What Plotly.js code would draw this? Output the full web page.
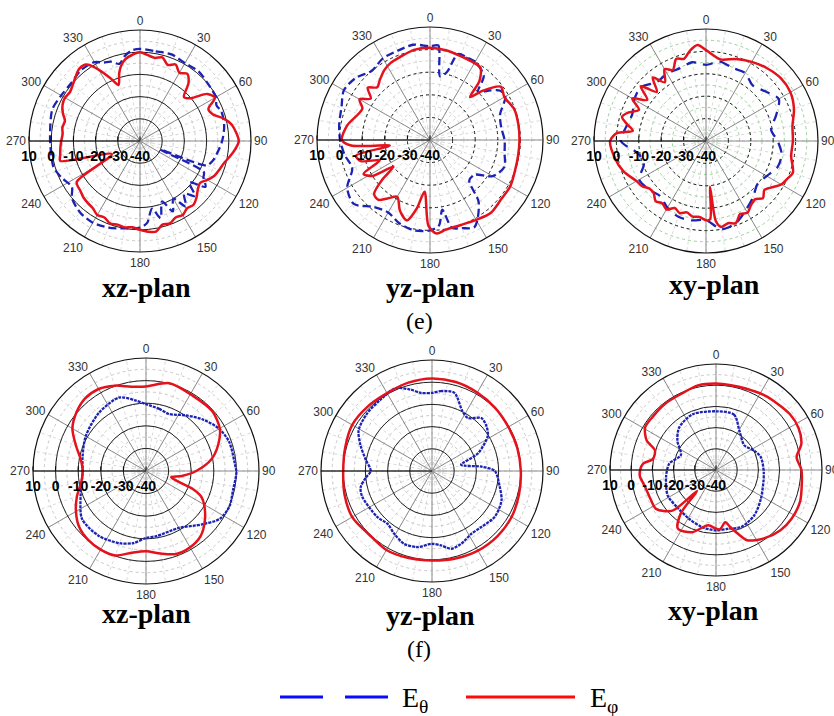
<!DOCTYPE html>
<html><head><meta charset="utf-8">
<script src="https://cdn.plot.ly/plotly-3.0.1.min.js"></script>
<style>html,body{margin:0;padding:0;background:#fff}#chart{width:834px;height:716px}</style>
</head><body><div id="chart"></div>
<script>
// ---------- tick labels ----------
const ANGLE_TICKS = [0,30,60,90,120,150,180,210,240,270,300,330];
const ANGLE_LABELS = ['0','30','60','90','120','150','180','210','240','270','300','330'];
const RADIAL_TICKS = [-40,-30,-20,-10,0,10];
const RADIAL_LABELS = ['-40','-30','-20','-10','0','10'];
const MINOR_ANGLE_TICKS = [0,10,20,30,40,50,60,70,80,90,100,110,120,130,140,150,160,170,180,190,200,210,220,230,240,250,260,270,280,290,300,310,320,330,340,350];
const MINOR_RADIAL_TICKS = [-35,-30,-25,-20,-15,-10,-5,0,5];
const PLANE_NAMES = ['xz-plan','yz-plan','xy-plan'];
const ROW_LABELS = ['(e)','(f)'];
const SERIES_NAMES = ['E<sub>θ</sub>','E<sub>φ</sub>'];

// ---------- (e) xz-plan ----------
const eXZ_thetaAng = [0,10,20,30,40,50,60,65,70,80,90,100,105,110,113,116,120,125,130,135,140,145,150,155,160,165,170,175,180,190,200,210,220,230,236,245,253,260,270,280,290,300,310,320,330,335,340,345,350,355,360];
const eXZ_thetaVal = [1.5,1,1.5,0.5,1,0,-0.5,-2,-1,-1.5,-3,-5,-6,-8,-30,-8,-7,-4,-11,-5,-9,-4,-10,-5,-11,-4,-9,-3,-1,0,1.5,2.5,2,0,-3,-1,0.7,0.5,0.5,1,2,1,0.5,1.5,1,-1,-2,-4,-1,1,1.5];
const eXZ_phiAng = [0,10,15,20,25,30,35,40,45,50,55,60,65,70,75,80,90,95,100,105,110,115,120,125,130,135,140,145,150,155,160,165,170,175,180,185,190,195,200,205,210,215,220,225,230,237,245,256,260,265,270,275,280,285,290,295,300,305,310,315,320,325,330,335,339,343,346,350,355,360];
const eXZ_phiVal = [0,-2,-1,-3.5,-2,-4.5,-3,-6,-12,-10,-3,-1,-6,-5,-1,2,4.5,3,1,-1,-2,-3,-5,-7,-6,-4,-2.5,-3,-1.5,-2,-0.5,-1,1.5,1,0,-1,-0.5,-1,-0.5,-2,-1.5,-3,-3.5,-4,-5,-6,-26,-3,-3.5,-4,-4.5,-5,-4.5,-5,-3,-1.5,-1,-1.5,-0.5,1,2.5,2,-3,-9,-13,-8,-5,-2.5,-1,0];

// ---------- (e) yz-plan ----------
const eYZ_thetaAng = [0,5,9,14,18,25,30,40,45,50,55,60,70,80,90,100,110,120,128,136,142,153,160,166,170,174,180,190,200,210,220,230,240,250,260,270,280,290,300,310,320,330,340,350,360];
const eYZ_thetaVal = [1.5,2,-11.5,-9,0,0,0,-3,-10,-6,-2,-1.5,-7,-8,-7,-6.5,-5,-8,-15,-15,-5,3.3,1.5,0,-8.7,-2,0,0.6,-0.7,-3,-1.3,4,2.3,-3.4,-1.7,-0.2,0.8,1.7,4,2.8,0,1.7,2,2.8,1.5];
const eYZ_phiAng = [0,10,20,30,35,40,43,47,53,60,70,80,90,100,110,120,130,140,150,160,170,176,181,186,191,196,203,210,216,221,226,230,234,238,243,248,253,258,262,266,270,280,290,295,300,305,310,315,320,327,333,340,350,360];
const eYZ_phiVal = [0.8,0.3,-0.5,-0.7,-1,-6,-14,-8,-0.8,-2,-0.3,-0.3,-0.4,-0.4,0,1,1,2,0.8,0,0.3,1.5,-2,-17,-9,-3,-6,-11,-8,-5,-5.6,-12,-20,-10,-7,-16,-8,-6.5,-22,-5,-1,-2.8,-6.3,-7,-4,-8,-4,-7,-5.4,-3,-1.7,-1,0.5,0.8];

// ---------- (e) xy-plan ----------
const eXY_thetaAng = [0,10,20,30,40,50,60,70,80,90,100,110,120,130,140,150,160,170,180,190,200,210,220,230,240,250,260,270,280,290,300,310,320,330,340,350,360];
const eXY_thetaVal = [-6,-4,-5.3,-5,-7.6,-5.5,-2.5,-6.7,-10.5,-8,-5.7,-6,-8.7,-10,-7.3,-4.4,-1,0,-4.7,-4,-4,-5.6,-8,-6.5,-5.6,-10.5,-9,-2,-3.8,-5,-3,-2.3,-5.7,-5.3,-5.5,-4.3,-6];
const eXY_phiAng = [0,10,20,30,40,50,60,70,80,90,100,110,115,120,125,130,135,140,145,150,155,160,165,170,173,175,177,180,185,190,195,200,205,210,215,220,225,230,235,240,250,260,270,275,278,282,286,290,295,300,305,310,315,320,325,330,335,340,345,350,355,360];
const eXY_phiVal = [0.6,-3,-1,0.8,2.4,3.6,3.5,1.8,-0.8,-1.2,-1.4,1.3,0,-1.2,-4,-6,-4,-6,-5,-3,-4,-1,-2,-1,-4,-19.5,-5,-4.6,-6,-5.7,-7,-5.7,-7,-4.7,-6,-5,-7,-7,-5,-4.2,-0.7,1.5,2.8,0,-7,-4,-1,-3,-7,-2,-8,-2,-9,-3,-8,-3,-5,-1,-2,1,3,0.6];

// ---------- (f) xz-plan ----------
const fXZ_thetaAng = [0,12,22,36,48,60,71,85,91,102,113,123,133,150,171,180,190,200,216,233,249,268,283,300,321,340,352,360];
const fXZ_thetaVal = [-10.4,-11.9,-12.8,-9.6,-6,-2.6,-1,-0.6,0,-0.6,0.1,-1.1,-5.5,-10.9,-10.8,-10.4,-7.6,-6,-4.5,-4.6,-9,-11.9,-11.2,-9.2,-6.9,-5.4,-8.6,-10.4];
const fXZ_phiAng = [0,15,32,48,60,70,80,90,98,104,109,111,115,120,130,140,150,160,170,180,190,200,210,220,230,240,250,260,270,280,290,300,310,320,330,340,350,360];
const fXZ_phiVal = [-2.6,0.2,-0.8,-0.5,-2.3,-6,-10.7,-17.8,-24,-28.5,-23.5,-18,-13,-10.3,-6,-2.4,-1,-0.9,-2.9,-4.5,-3.3,-0.2,0.2,-0.2,-1.4,-4.2,-7.5,-10.9,-12,-10.7,-7,-2.4,0.2,1.9,1.9,0.2,-2.1,-2.6];

// ---------- (f) yz-plan ----------
const fYZ_thetaAng = [0,6,16,27,34,43,51,58,69,78,85,90,103,113,126,139,148,158,166,173,180,191,201,211,220,230,250,257,264,270,280,290,299,312,324,336,345,352,360];
const fYZ_thetaVal = [-4.8,-3.8,-3.4,-9.8,-11.2,-7.4,-8.3,-10.4,-17.8,-26.6,-17.6,-11.7,-8.7,-6,-5,-6.4,-6.6,-4.7,-3.9,-6.2,-7.2,-5.1,-4.9,-7,-8.9,-7.8,-6.5,-7,-9.9,-12.4,-9.6,-5.7,-2.2,-0.9,-0.4,0.8,-2,-4.5,-4.8];
const fYZ_phiAng = [0,15,30,45,60,75,90,105,120,135,150,165,180,195,210,225,240,255,270,285,300,315,330,345,360];
const fYZ_phiVal = [1.7,1.5,0.8,0.2,-0.3,-0.2,0,0.6,1.4,1.6,1.4,0.8,0.3,0.6,1.1,0.3,1.5,0.8,0,0.5,1.5,1,0.5,1.2,1.7];

// ---------- (f) xy-plan ----------
const fXY_thetaAng = [0,18,31,49,63,74,94,123,140,156,168,180,194,209,226,242,263,278,293,307,319,337,360];
const fXY_thetaVal = [-12.3,-12.5,-18.5,-22.3,-19.8,-18,-17.4,-14.8,-12,-10.6,-11.7,-11.5,-12.3,-13.7,-14.6,-14.2,-16.3,-17.8,-22,-17.2,-13.5,-11.5,-12.3];
const fXY_phiAng = [0,10,20,33,42,53,63,73,81,90,103,111,123,133,145,156,160,166,170,176,180,188,201,213,219,222,227,237,247,257,265,270,275,280,288,293,301,310,323,336,348,360];
const fXY_phiVal = [0.8,0.6,0.9,2,2.6,3.7,3.7,2.1,-1.5,0.3,1.4,2.4,2.4,1.6,-0.6,-3.7,-7.3,-12.3,-15,-12,-12.3,-13.7,-8.6,-7,-13.5,-26.6,-11.9,-6.3,-6.2,-5.6,-4,-4.2,-5.5,-9.8,-9.7,-4.5,-1,-1,-0.6,-0.5,0.8,0.8];

// ---------- styling ----------
const BLUE = '#1c22b4', RED = '#e3121c';
const W = 834, H = 716;
function dom(cx, cy, R){ return {x:[(cx-R)/W,(cx+R)/W], y:[(H-cy-R)/H,(H-cy+R)/H]}; }
const PLOTS = [
  {th:[eXZ_thetaAng,eXZ_thetaVal], ph:[eXZ_phiAng,eXZ_phiVal], d:dom(140,141,111), dash:'solid', rad:true,  bdash:'8px,4px',  minor:'#c8c8c8'},
  {th:[eYZ_thetaAng,eYZ_thetaVal], ph:[eYZ_phiAng,eYZ_phiVal], d:dom(430,140,113), dash:'dot',   rad:true,  bdash:'8px,4px',  minor:'#d4d4d4'},
  {th:[eXY_thetaAng,eXY_thetaVal], ph:[eXY_phiAng,eXY_phiVal], d:dom(706,141,112), dash:'dot',   rad:true,  bdash:'10px,7px', minor:'#9ccf9c'},
  {th:[fXZ_thetaAng,fXZ_thetaVal], ph:[fXZ_phiAng,fXZ_phiVal], d:dom(146,471,113), dash:'solid', rad:true,  bdash:'3px,1px',  minor:'#c8c8c8'},
  {th:[fYZ_thetaAng,fYZ_thetaVal], ph:[fYZ_phiAng,fYZ_phiVal], d:dom(432,471,111), dash:'solid', rad:false, bdash:'3px,1px',  minor:'#c8c8c8'},
  {th:[fXY_thetaAng,fXY_thetaVal], ph:[fXY_phiAng,fXY_phiVal], d:dom(716,470,106), dash:'solid', rad:true,  bdash:'3px,1px',  minor:'#c8c8c8'}
];

const traces = [];
const layout = {
  width: W, height: H, margin:{l:0,r:0,t:0,b:0},
  paper_bgcolor:'#fff', showlegend:false,
  annotations: [], shapes: []
};
// faint minor grid subplots (polar .. polar6), drawn underneath
PLOTS.forEach((p, i) => {
  const sub = i === 0 ? 'polar' : 'polar' + (i + 1);
  traces.push({type:'scatterpolar', subplot:sub, theta:[], r:[], mode:'lines', hoverinfo:'skip'});
  layout[sub] = {
    domain: p.d, bgcolor:'#fff',
    angularaxis:{rotation:90, direction:'clockwise', tickmode:'array', tickvals:MINOR_ANGLE_TICKS, showticklabels:false,
      showline:false, gridcolor:'#d9d9d9', gridwidth:1, griddash:'dot', ticks:''},
    radialaxis:{range:[-40,10], tickmode:'array', tickvals:MINOR_RADIAL_TICKS, showticklabels:false, showline:false,
      gridcolor:p.minor, gridwidth:1, griddash:'dot', ticks:''}
  };
});
// main subplots (polar7 .. polar12)
PLOTS.forEach((p, i) => {
  const sub = 'polar' + (i + 7);
  traces.push({type:'scatterpolar', subplot:sub, theta:p.th[0], r:p.th[1], mode:'lines',
    line:{color:BLUE, width:2.3, dash:p.bdash, shape:'spline', smoothing:0.8}, hoverinfo:'skip', name:SERIES_NAMES[0]});
  traces.push({type:'scatterpolar', subplot:sub, theta:p.ph[0], r:p.ph[1], mode:'lines',
    line:{color:RED, width:2.5, shape:'spline', smoothing:0.8}, hoverinfo:'skip', name:SERIES_NAMES[1]});
  layout[sub] = {
    domain: p.d, bgcolor:'rgba(0,0,0,0)',
    angularaxis:{rotation:90, direction:'clockwise', tickmode:'array', tickvals:ANGLE_TICKS, ticktext:ANGLE_LABELS,
      showline:true, linecolor:'#111', linewidth:1.2, gridcolor:'#8c8c8c', gridwidth:1, ticks:'',
      tickfont:{family:'Liberation Sans, Arial', size:12, color:'#333'}},
    radialaxis:{range:[-40,10], tickmode:'array', tickvals:RADIAL_TICKS, ticktext:RADIAL_LABELS, angle:180, tickangle:180,
      side:'counterclockwise', showline:true, linecolor:'#000', linewidth:1.2, gridcolor:'#222', gridwidth:1, griddash:p.dash,
      showticklabels:p.rad, ticks:p.rad ? 'inside' : '', ticklen:4, tickcolor:'#000',
      tickfont:{family:'Liberation Sans, Arial', size:14, color:'#000', weight:'bold'}}
  };
});

// titles
const titlePos = [[146,287],[430,287],[714,284],[146,613],[430,615],[713,610]];
titlePos.forEach((t,i) => layout.annotations.push({xref:'paper', yref:'paper', x:t[0]/W, y:(H-t[1])/H, xanchor:'center', yanchor:'middle',
  showarrow:false, text:'<b>'+PLANE_NAMES[i%3]+'</b>', font:{family:'Liberation Serif, Times New Roman', size:28, color:'#000'}}));
[[419,321],[419,649]].forEach((t,i) => layout.annotations.push({xref:'paper', yref:'paper', x:t[0]/W, y:(H-t[1])/H, xanchor:'center', yanchor:'middle',
  showarrow:false, text:ROW_LABELS[i], font:{family:'Liberation Serif, Times New Roman', size:24, color:'#000'}}));

// legend
layout.shapes.push({type:'line', xref:'paper', yref:'paper', x0:280/W, x1:388/W, y0:(H-697)/H, y1:(H-697)/H, line:{color:'#0a0aff', width:3, dash:'43px,22px'}});
layout.shapes.push({type:'line', xref:'paper', yref:'paper', x0:466/W, x1:575/W, y0:(H-697)/H, y1:(H-697)/H, line:{color:'#ff0a0a', width:3}});
layout.annotations.push({xref:'paper', yref:'paper', x:400/W, y:(H-699)/H, xanchor:'left', yanchor:'middle', showarrow:false,
  text:SERIES_NAMES[0], font:{family:'Liberation Serif, Times New Roman', size:28, color:'#000'}});
layout.annotations.push({xref:'paper', yref:'paper', x:588/W, y:(H-699)/H, xanchor:'left', yanchor:'middle', showarrow:false,
  text:SERIES_NAMES[1], font:{family:'Liberation Serif, Times New Roman', size:28, color:'#000'}});

Plotly.newPlot('chart', traces, layout, {displayModeBar:false, staticPlot:true});
</script></body></html>
